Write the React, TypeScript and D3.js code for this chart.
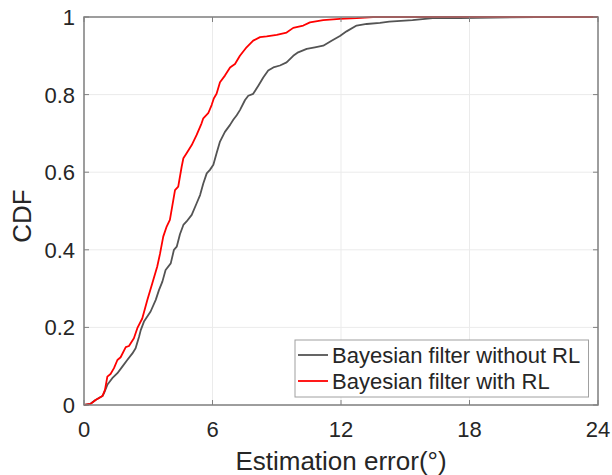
import React from "react";
import * as d3 from "d3";

const xTicks = [0, 6, 12, 18, 24];
const yTicks = [0, 0.2, 0.4, 0.6, 0.8, 1];
const yTickLabels = ["0", "0.2", "0.4", "0.6", "0.8", "1"];

const seriesNames = ["Bayesian filter without RL", "Bayesian filter with RL"];
const seriesColors = ["#545454", "#ff0000"];

const noRlX = [0, 0.3, 0.54, 0.86, 0.93, 1.09, 1.32, 1.56, 1.79, 2.02, 2.26, 2.41, 2.57, 2.65, 2.8, 3.11, 3.35, 3.5, 3.66, 3.81, 4.05, 4.2, 4.33, 4.48, 4.64, 4.79, 5.03, 5.26, 5.42, 5.57, 5.73, 5.88, 6.04, 6.19, 6.35, 6.58, 6.82, 6.97, 7.13, 7.28, 7.52, 7.67, 7.9, 8.14, 8.37, 8.6, 8.84, 9.15, 9.46, 9.77, 10.0, 10.4, 10.78, 11.17, 11.56, 11.95, 12.26, 12.73, 13.2, 13.82, 14.25, 15.34, 16.28, 17.52, 21.1, 24];
const noRlY = [0, 0.003, 0.013, 0.023, 0.03, 0.052, 0.069, 0.082, 0.099, 0.116, 0.133, 0.146, 0.176, 0.193, 0.215, 0.241, 0.271, 0.296, 0.318, 0.348, 0.365, 0.4, 0.408, 0.44, 0.464, 0.473, 0.49, 0.52, 0.541, 0.571, 0.597, 0.606, 0.619, 0.649, 0.679, 0.704, 0.722, 0.735, 0.747, 0.76, 0.786, 0.797, 0.802, 0.823, 0.844, 0.862, 0.87, 0.875, 0.883, 0.9, 0.909, 0.918, 0.922, 0.926, 0.939, 0.951, 0.963, 0.978, 0.982, 0.985, 0.988, 0.992, 0.997, 0.997, 1, 1];

const rlX = [0, 0.31, 0.54, 0.86, 0.98, 1.09, 1.24, 1.4, 1.56, 1.71, 1.95, 2.1, 2.33, 2.49, 2.72, 2.96, 3.19, 3.42, 3.55, 3.7, 3.86, 4.01, 4.25, 4.4, 4.56, 4.64, 4.79, 5.03, 5.26, 5.49, 5.57, 5.8, 5.96, 6.06, 6.19, 6.35, 6.58, 6.82, 7.05, 7.28, 7.59, 7.9, 8.22, 8.53, 9.0, 9.46, 9.77, 10.24, 10.55, 11.17, 11.95, 12.73, 13.5, 24];
const rlY = [0, 0.003, 0.013, 0.023, 0.039, 0.073, 0.08, 0.095, 0.116, 0.123, 0.149, 0.152, 0.172, 0.198, 0.223, 0.271, 0.314, 0.357, 0.39, 0.434, 0.46, 0.477, 0.554, 0.563, 0.614, 0.636, 0.649, 0.67, 0.696, 0.726, 0.739, 0.752, 0.773, 0.79, 0.802, 0.832, 0.849, 0.87, 0.879, 0.9, 0.922, 0.939, 0.948, 0.95, 0.954, 0.96, 0.972, 0.978, 0.986, 0.992, 0.995, 0.997, 1.0, 1.0];

const W = 612;
const H = 475;
const L = 84, R = 598, T = 17, B = 405;
const FONT = "'Liberation Sans', Arial, Helvetica, sans-serif";

export default function App() {
  const x = d3.scaleLinear().domain([0, 24]).range([L, R]);
  const y = d3.scaleLinear().domain([0, 1]).range([B, T]);
  const line = d3
    .line<[number, number]>()
    .x((d) => x(d[0]))
    .y((d) => y(d[1]));

  const series = [
    noRlX.map((v, i) => [v, noRlY[i]] as [number, number]),
    rlX.map((v, i) => [v, rlY[i]] as [number, number]),
  ];

  const axisColor = "#808080";
  const textColor = "#262626";
  const tick = 5;

  return (
    <svg
      width={W}
      height={H}
      style={{ position: "absolute", left: 0, top: 0, background: "#fff" }}
      fontFamily={FONT}
    >
      <rect x={0} y={0} width={W} height={H} fill="#fff" />
      {/* grid */}
      {xTicks.map((t) => (
        <line key={"gx" + t} x1={x(t)} x2={x(t)} y1={T} y2={B} stroke="#ebebeb" strokeWidth={1} />
      ))}
      {yTicks.map((t) => (
        <line key={"gy" + t} x1={L} x2={R} y1={y(t)} y2={y(t)} stroke="#ebebeb" strokeWidth={1} />
      ))}
      {/* curves */}
      {series.map((s, i) => (
        <path
          key={"s" + i}
          d={line(s) || ""}
          fill="none"
          stroke={seriesColors[i]}
          strokeWidth={1.8}
          strokeLinejoin="round"
        />
      ))}
      {/* ticks */}
      {xTicks.map((t) => (
        <g key={"tx" + t}>
          <line x1={x(t)} x2={x(t)} y1={B} y2={B - tick} stroke={axisColor} strokeWidth={1} />
          <line x1={x(t)} x2={x(t)} y1={T} y2={T + tick} stroke={axisColor} strokeWidth={1} />
          <text x={x(t)} y={437} textAnchor="middle" fontSize={22} fill={textColor}>
            {t}
          </text>
        </g>
      ))}
      {yTicks.map((t, i) => (
        <g key={"ty" + t}>
          <line x1={L} x2={L + tick} y1={y(t)} y2={y(t)} stroke={axisColor} strokeWidth={1} />
          <line x1={R} x2={R - tick} y1={y(t)} y2={y(t)} stroke={axisColor} strokeWidth={1} />
          <text x={75} y={y(t) + 8} textAnchor="end" fontSize={22} fill={textColor}>
            {yTickLabels[i]}
          </text>
        </g>
      ))}
      {/* box */}
      <rect x={L} y={T} width={R - L} height={B - T} fill="none" stroke={axisColor} strokeWidth={1.5} />
      {/* axis labels */}
      <text x={(L + R) / 2} y={470} textAnchor="middle" fontSize={26} fill={textColor}>
        Estimation error(°)
      </text>
      <text
        transform={`translate(31, ${(T + B) / 2 + 5}) rotate(-90)`}
        textAnchor="middle"
        fontSize={26}
        fill={textColor}
      >
        CDF
      </text>
      {/* legend */}
      <rect x={295} y={340} width={293.5} height={57} fill="#fff" stroke="#a0a0a0" strokeWidth={1} />
      {seriesNames.map((n, i) => (
        <g key={"lg" + i}>
          <line
            x1={298}
            x2={328}
            y1={355 + i * 26}
            y2={355 + i * 26}
            stroke={seriesColors[i]}
            strokeWidth={1.8}
          />
          <text x={332} y={355 + i * 26 + 8} fontSize={22} fill={textColor}>
            {n}
          </text>
        </g>
      ))}
    </svg>
  );
}
